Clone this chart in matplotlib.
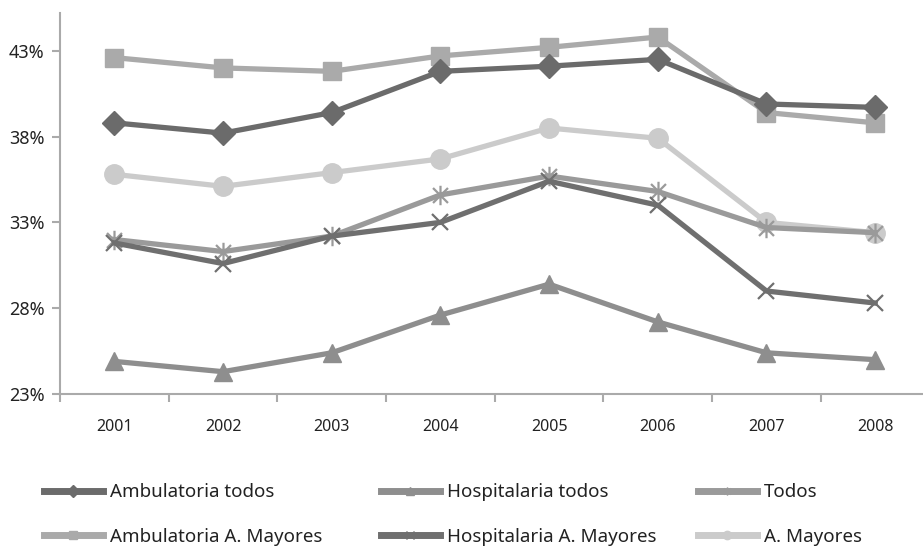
import matplotlib
matplotlib.use("Agg")
import matplotlib.pyplot as plt
from matplotlib.lines import Line2D
from matplotlib.path import Path
from matplotlib.ticker import FixedLocator, FuncFormatter

years = ["2001", "2002", "2003", "2004", "2005", "2006", "2007", "2008"]

ambulatoria_todos = [38.8, 38.2, 39.4, 41.8, 42.1, 42.5, 39.9, 39.7]
hospitalaria_todos = [24.9, 24.3, 25.4, 27.6, 29.4, 27.2, 25.4, 25.0]
todos = [32.0, 31.3, 32.2, 34.6, 35.7, 34.8, 32.7, 32.4]
ambulatoria_mayores = [42.6, 42.0, 41.8, 42.7, 43.2, 43.8, 39.4, 38.8]
hospitalaria_mayores = [31.8, 30.6, 32.2, 33.0, 35.4, 34.0, 29.0, 28.3]
mayores = [35.8, 35.1, 35.9, 36.7, 38.5, 37.9, 33.0, 32.4]

y_ticks = [23, 28, 33, 38, 43]

# excel style star: an X with a vertical bar through it
star = Path([(-1, -1), (1, 1), (-1, 1), (1, -1), (0, -1.3), (0, 1.3)],
            [Path.MOVETO, Path.LINETO, Path.MOVETO, Path.LINETO,
             Path.MOVETO, Path.LINETO])

# drawing order: label, values, colour, marker, marker size
series = [
    ("Ambulatoria A. Mayores", ambulatoria_mayores, "#aaaaaa", "s", 13),
    ("A. Mayores", mayores, "#cbcbcb", "o", 14),
    ("Todos", todos, "#9a9a9a", star, 14),
    ("Hospitalaria A. Mayores", hospitalaria_mayores, "#6f6f6f", "x", 12),
    ("Ambulatoria todos", ambulatoria_todos, "#6b6b6b", "D", 12.5),
    ("Hospitalaria todos", hospitalaria_todos, "#8e8e8e", "^", 13),
]

legend_columns = [
    ["Ambulatoria todos", "Ambulatoria A. Mayores"],
    ["Hospitalaria todos", "Hospitalaria A. Mayores"],
    ["Todos", "A. Mayores"],
]
legend_x = [35, 372, 689]

plt.rcParams["font.family"] = ["Noto Sans", "DejaVu Sans"]

fig = plt.figure(figsize=(9.23, 5.49), dpi=100)
ax = fig.add_axes([60 / 923, 1 - 394 / 549, 863 / 923, (394 - 13) / 549])

x = list(range(len(years)))
handles = {}
for label, values, color, marker, ms in series:
    thin = marker is star or marker == "x"
    ax.plot(x, values, color=color, lw=3.8, marker=marker, ms=ms,
            mec=color, mfc=color, mew=1.6 if thin else 1,
            solid_joinstyle="miter")
    handles[label] = Line2D([], [], color=color, lw=5, marker=marker,
                            ms=6, mec=color, mfc=color, mew=1)

ax.set_xlim(-0.5, 7.44)
ax.set_ylim(23, 45.2)

ax.set_xticks(x)
ax.set_xticklabels(years)
ax.xaxis.set_minor_locator(FixedLocator([i - 0.5 for i in range(len(years))]))
ax.tick_params(axis="x", which="major", length=0, pad=18, labelsize=11.5,
               colors="#222222")
ax.tick_params(axis="x", which="minor", length=6, width=1.5, color="#aaaaaa")

ax.set_yticks(y_ticks)
ax.yaxis.set_major_formatter(FuncFormatter(lambda v, p: f"{v:.0f}%"))
ax.tick_params(axis="y", length=6, width=1.5, color="#aaaaaa", labelsize=13,
               labelcolor="#222222", pad=5)

for side in ("top", "right"):
    ax.spines[side].set_visible(False)
for side in ("left", "bottom"):
    ax.spines[side].set_color("#aaaaaa")
    ax.spines[side].set_linewidth(1.5)

for labels, lx in zip(legend_columns, legend_x):
    leg = fig.legend([handles[k] for k in labels], labels, loc="upper left",
                     bbox_to_anchor=(lx / 923, 1 - 474 / 549), frameon=False,
                     handlelength=3.1, handletextpad=0.4, labelspacing=1.42,
                     borderpad=0, prop={"size": 13.5})
    for t in leg.get_texts():
        t.set_color("#222222")

fig.savefig("out.png", dpi=100)
